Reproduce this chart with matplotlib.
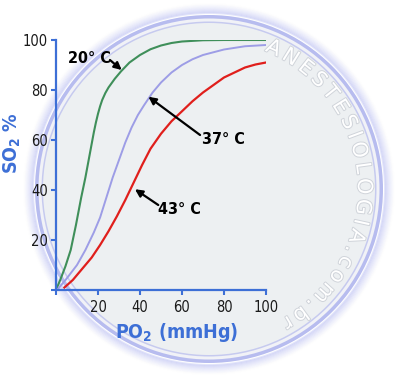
import os
import numpy as np
import matplotlib
matplotlib.use('Agg')
import matplotlib.pyplot as plt
from matplotlib import font_manager
from matplotlib.patches import Circle
from matplotlib.font_manager import FontProperties
from matplotlib.textpath import text_to_path
import matplotlib.patheffects as pe

# curves (PO2 mmHg, SO2 %)
po2_20 = [0, 2, 4.5, 7, 9.5, 12, 14, 16, 18, 19, 20, 21, 22, 23.5, 25, 28, 31, 35, 40, 45, 50, 55, 60, 70, 80, 100]
so2_20 = [0, 4, 9.5, 16, 26, 37, 45, 54, 63, 67, 70.5, 73.5, 76, 78.8, 81, 84.5, 87.5, 91, 94, 96.3, 97.8, 98.8, 99.4, 99.9, 100, 100]

po2_37 = [1, 5, 10, 14, 18, 21, 24, 27, 30, 33, 36, 39, 42, 46, 50, 55, 60, 65, 70, 80, 90, 100]
so2_37 = [0.5, 4.5, 10, 16, 23, 29, 37, 45, 52, 59, 65, 70, 74, 79, 83, 87, 90, 92.3, 94, 96.2, 97.5, 98]

po2_43 = [4, 8, 13, 17, 21, 25, 29, 33, 37, 41, 45, 50, 55, 60, 65, 70, 75, 80, 85, 90, 95, 100]
so2_43 = [1, 4, 9, 13, 18, 23.5, 29.5, 36, 43, 50, 56.5, 62.5, 67.5, 71.5, 75.5, 79, 82, 85, 87, 89, 90.2, 91]

labels = ['20° C', '37° C', '43° C']
x_ticks = [0, 20, 40, 60, 80, 100]
y_ticks = [0, 20, 40, 60, 80, 100]
watermark = 'ANESTESIOLOGIA.com.br'

# look for a narrow sans face, else fall back to Liberation Sans
narrow = None
for f in font_manager.fontManager.ttflist:
    base = os.path.basename(f.fname)
    if ('Narrow' in base or 'Condensed' in base) and 'Mono' not in base and 'Serif' not in base:
        narrow = f.name
        break
if narrow is None:
    narrow = 'Liberation Sans'
plt.rcParams['font.family'] = [narrow, 'DejaVu Sans']
plt.rcParams['font.stretch'] = 'condensed'
plt.rcParams['mathtext.fontset'] = 'custom'
plt.rcParams['mathtext.rm'] = narrow + ':stretch=condensed'
plt.rcParams['mathtext.bf'] = narrow + ':bold:stretch=condensed'

blue = '#3d6fd6'

fig = plt.figure(figsize=(4, 3.87), dpi=100)
fig.patch.set_facecolor('white')

# background disc, pixel coordinates
bg = fig.add_axes([0, 0, 1, 1])
bg.set_xlim(0, 400)
bg.set_ylim(387, 0)
bg.axis('off')
cx, cy, r = 209, 189, 174
for k in range(10):
    bg.add_patch(Circle((cx, cy), r + 2 + k, fill=False, lw=1.4, ec='#b3b8f2', alpha=0.35 * (1 - k / 10) ** 1.5))
bg.add_patch(Circle((cx, cy), r, fc='#b7bcef', ec='none'))
bg.add_patch(Circle((cx, cy), r - 3.5, fc='#f1f2f7', ec='none'))
bg.add_patch(Circle((cx, cy), r - 6.5, fc='#c6caef', ec='none'))
bg.add_patch(Circle((cx, cy), r - 8, fc='#edf0f2', ec='none'))

# curved watermark
prop = FontProperties(family='DejaVu Sans', size=15, stretch='normal')
widths = [text_to_path.get_text_width_height_descent(c, prop, ismath=False)[0] * 100 / 72 for c in watermark]
r_txt = 155
a0, a1 = np.radians(68), np.radians(-61)
gap = ((a0 - a1) * r_txt - sum(widths)) / (len(watermark) - 1)
s = 0
for c, w in zip(watermark, widths):
    th = a0 - (s + w / 2) / r_txt
    bg.text(cx + r_txt * np.cos(th), cy - r_txt * np.sin(th), c, fontproperties=prop,
            color='white', ha='center', va='center', rotation=np.degrees(th) - 90,
            rotation_mode='anchor',
            path_effects=[pe.withStroke(linewidth=1.4, foreground='#d0d4da')])
    s += w + gap

ax = fig.add_axes([56 / 400, 1 - 290 / 387, 210 / 400, 250 / 387])
ax.patch.set_alpha(0)
ax.plot(po2_20, so2_20, color='#3f8f5a', lw=1.5, solid_joinstyle='round')
ax.plot(po2_37, so2_37, color='#9d9de6', lw=1.4, solid_joinstyle='round')
ax.plot(po2_43, so2_43, color='#e01f1c', lw=1.6, solid_joinstyle='round')

ax.set_xlim(0, 100)
ax.set_ylim(0, 100)
ax.set_xticks(x_ticks)
ax.set_xticklabels([''] + [str(t) for t in x_ticks[1:]])
ax.set_yticks(y_ticks)
ax.set_yticklabels([''] + [str(t) for t in y_ticks[1:]])
for side in ['top', 'right']:
    ax.spines[side].set_visible(False)
for side in ['left', 'bottom']:
    ax.spines[side].set_color(blue)
    ax.spines[side].set_linewidth(1.6)
ax.tick_params(axis='both', color=blue, width=1.5, length=3.5, labelsize=10.5, labelcolor='#1a1a1a')
ax.tick_params(axis='x', pad=4)
ax.tick_params(axis='y', pad=2.5)

fig.text(12 / 400, 1 - 143 / 387, r'SO$_\mathbf{2}$ %', rotation=90, color=blue,
         fontsize=14, fontweight='bold', ha='center', va='center')
fig.text(177 / 400, 1 - 333 / 387, r'PO$_\mathbf{2}$ (mmHg)', color=blue,
         fontsize=14, fontweight='bold', ha='center', va='center')

arrow = dict(arrowstyle='-|>', color='black', lw=1.6, mutation_scale=11, shrinkA=0, shrinkB=0)
ax.annotate('', xy=(31.3, 88), xytext=(25.7, 92), arrowprops=arrow)
ax.annotate('', xy=(44, 77.3), xytext=(68.6, 62), arrowprops=arrow)
ax.annotate('', xy=(37.6, 40.3), xytext=(48.7, 34), arrowprops=arrow)
ax.text(15.7, 92.6, labels[0], fontsize=11.5, fontweight='bold', ha='center', va='center')
ax.text(79.8, 60.2, labels[1], fontsize=11.5, fontweight='bold', ha='center', va='center')
ax.text(58.8, 32.4, labels[2], fontsize=11.5, fontweight='bold', ha='center', va='center')

fig.savefig('out.png', dpi=100)
